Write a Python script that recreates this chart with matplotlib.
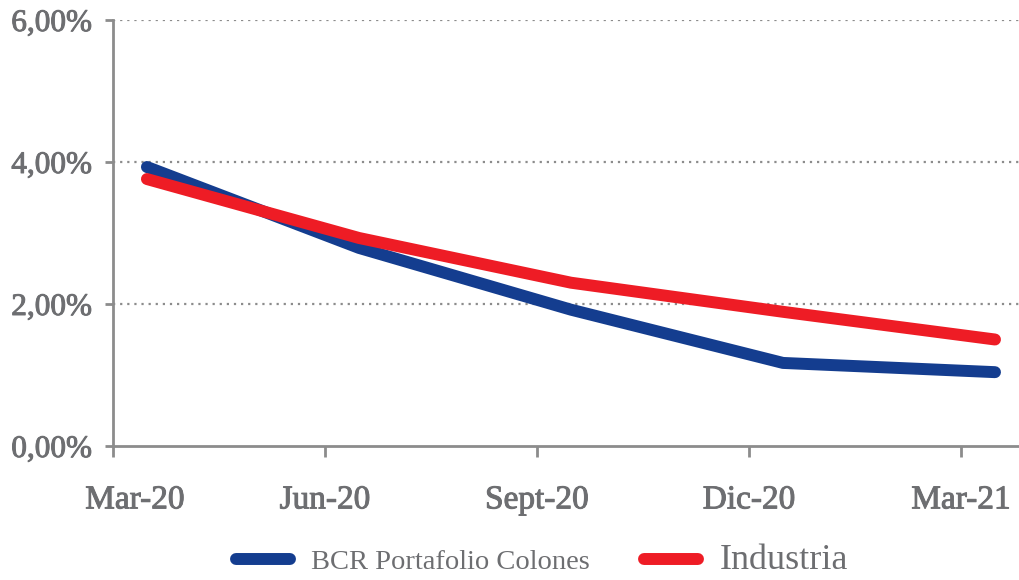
import matplotlib
matplotlib.use("Agg")
import matplotlib.pyplot as plt
import matplotlib.transforms as mt
import matplotlib.patheffects as pe
from matplotlib.lines import Line2D

categories = ["Mar-20", "Jun-20", "Sept-20", "Dic-20", "Mar-21"]
bcr = [3.93, 2.79, 1.92, 1.17, 1.04]
industria = [3.76, 2.93, 2.30, 1.89, 1.50]
yticks = [0, 2, 4, 6]
ytick_labels = ["0,00%", "2,00%", "4,00%", "6,00%"]

BLUE = "#143D8F"
RED = "#EE1C25"
GREY = "#6D6E71"
AX = "#8C8C8C"

plt.rcParams['font.family'] = ['Liberation Serif', 'DejaVu Serif']

fig = plt.figure(figsize=(10.19, 5.80), dpi=100)
ax = fig.add_axes([113/1019, 1-446/580, 1-113/1019, (446-20)/580])

x = list(range(len(categories)))
ax.plot(x, bcr, color=BLUE, lw=8.6, solid_capstyle='round', solid_joinstyle='round', zorder=3)
ax.plot(x, industria, color=RED, lw=8.6, solid_capstyle='round', solid_joinstyle='round', zorder=4)

off = -0.16
ax.set_xlim(off, (1019-147)/212)
ax.set_ylim(0, 6)

bold_fx = [pe.withStroke(linewidth=0.7, foreground=GREY)]

ax.set_xticks([off + i for i in x])
ax.set_xticklabels(categories)
ax.tick_params(axis='x', length=8, width=2, color=AX, labelsize=24, labelcolor=GREY, pad=20)
lbls = ax.get_xticklabels()
lbls[0].set_transform(lbls[0].get_transform() + mt.ScaledTranslation(0.22, 0, fig.dpi_scale_trans))
for l in lbls:
    l.set_path_effects(bold_fx)

ax.set_yticks(yticks)
ax.set_yticklabels(ytick_labels)
ax.tick_params(axis='y', length=6, width=2, color=AX, labelsize=22.5, labelcolor=GREY, pad=9)
for l in ax.get_yticklabels():
    l.set_path_effects(bold_fx)

for v in yticks[1:]:
    ax.axhline(v, color="#8C8C8C", lw=1.6, ls=(0, (1, 2.2)), zorder=1)

for s in ['top', 'right']:
    ax.spines[s].set_visible(False)
for s in ['left', 'bottom']:
    ax.spines[s].set_color(AX)
    ax.spines[s].set_linewidth(2)

handles = [Line2D([0], [0], color=BLUE, lw=8.6, solid_capstyle='round'),
           Line2D([0], [0], color=RED, lw=8.6, solid_capstyle='round')]
leg = fig.legend(handles, ["BCR Portafolio Colones", "Industria"], loc='center',
                 bbox_to_anchor=(0.532, 0.034), ncol=2, frameon=False, fontsize=20.5,
                 handlelength=1.9, handletextpad=0.75, columnspacing=1.9,
                 borderpad=0, borderaxespad=0)
for t in leg.get_texts():
    t.set_color(GREY)
leg.get_texts()[1].set_fontsize(26)

fig.savefig("out.png", dpi=100)
